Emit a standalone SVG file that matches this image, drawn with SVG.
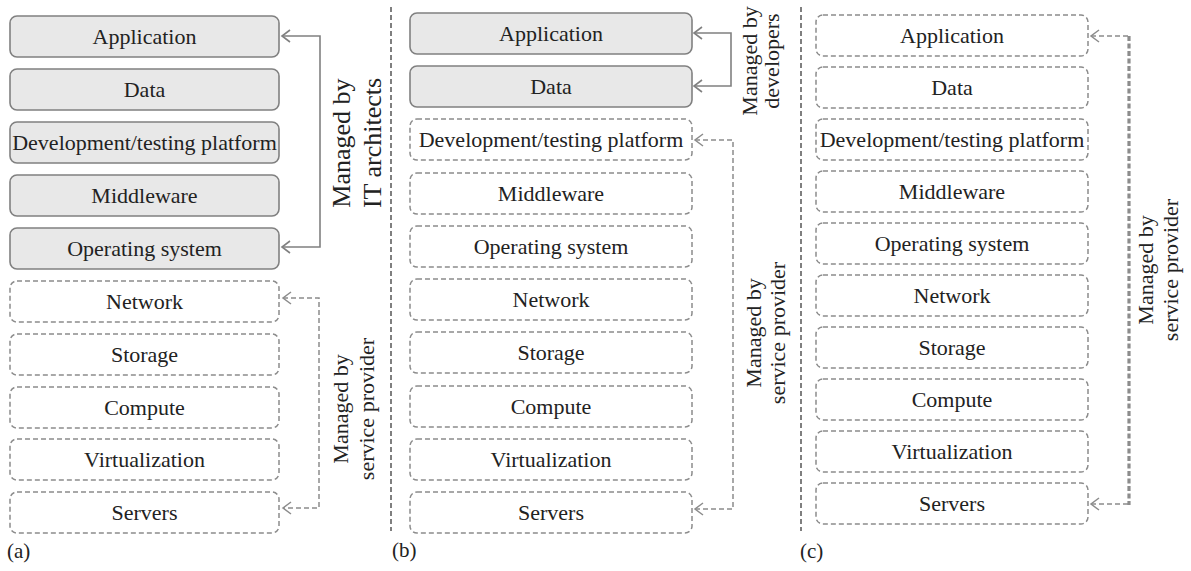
<svg xmlns="http://www.w3.org/2000/svg" width="1191" height="571" viewBox="0 0 1191 571">
<style>
text{font-family:"Liberation Serif","Times New Roman",serif;fill:#222;}
.t{font-size:22px;text-anchor:middle;}
.lab{font-size:22px;text-anchor:middle;}
.big{font-size:26px;text-anchor:middle;}
.pl{font-size:21px;}
.s{fill:#e8e8e8;stroke:#808080;stroke-width:1.6;}
.d{fill:#fff;stroke:#8c8c8c;stroke-width:1.5;stroke-dasharray:5 3;}
.c{fill:none;stroke:#808080;stroke-width:1.6;}
.cd{fill:none;stroke:#8c8c8c;stroke-width:1.5;stroke-dasharray:5 3;}
.ct{fill:none;stroke:#8c8c8c;stroke-width:3.2;stroke-dasharray:5 2.5;}
.div{fill:none;stroke:#555;stroke-width:1.5;stroke-dasharray:5 3;}
.ah{fill:none;stroke:#808080;stroke-width:1.6;}
.ahd{fill:none;stroke:#8c8c8c;stroke-width:1.5;}
</style>

<!-- Panel (a) -->
<g id="a-application"><rect class="s" x="10" y="16" width="269" height="41" rx="7"/><text class="t" x="144.5" y="44">Application</text></g>
<g id="a-data"><rect class="s" x="10" y="69" width="269" height="41" rx="7"/><text class="t" x="144.5" y="97">Data</text></g>
<g id="a-dev"><rect class="s" x="10" y="122" width="269" height="41" rx="7"/><text class="t" x="144.5" y="150">Development/testing platform</text></g>
<g id="a-middleware"><rect class="s" x="10" y="175" width="269" height="41" rx="7"/><text class="t" x="144.5" y="203">Middleware</text></g>
<g id="a-os"><rect class="s" x="10" y="228" width="269" height="41" rx="7"/><text class="t" x="144.5" y="256">Operating system</text></g>
<g id="a-network"><rect class="d" x="10" y="281" width="269" height="41" rx="7"/><text class="t" x="144.5" y="309">Network</text></g>
<g id="a-storage"><rect class="d" x="10" y="334" width="269" height="41" rx="7"/><text class="t" x="144.5" y="362">Storage</text></g>
<g id="a-compute"><rect class="d" x="10" y="387" width="269" height="41" rx="7"/><text class="t" x="144.5" y="415">Compute</text></g>
<g id="a-virtualization"><rect class="d" x="10" y="439" width="269" height="41" rx="7"/><text class="t" x="144.5" y="467">Virtualization</text></g>
<g id="a-servers"><rect class="d" x="10" y="492" width="269" height="41" rx="7"/><text class="t" x="144.5" y="520">Servers</text></g>

<!-- Panel (b) -->
<g id="b-application"><rect class="s" x="410" y="13" width="282" height="41" rx="7"/><text class="t" x="551" y="41">Application</text></g>
<g id="b-data"><rect class="s" x="410" y="66" width="282" height="41" rx="7"/><text class="t" x="551" y="94">Data</text></g>
<g id="b-dev"><rect class="d" x="410" y="119" width="282" height="41" rx="7"/><text class="t" x="551" y="147">Development/testing platform</text></g>
<g id="b-middleware"><rect class="d" x="410" y="173" width="282" height="41" rx="7"/><text class="t" x="551" y="201">Middleware</text></g>
<g id="b-os"><rect class="d" x="410" y="226" width="282" height="41" rx="7"/><text class="t" x="551" y="254">Operating system</text></g>
<g id="b-network"><rect class="d" x="410" y="279" width="282" height="41" rx="7"/><text class="t" x="551" y="307">Network</text></g>
<g id="b-storage"><rect class="d" x="410" y="332" width="282" height="41" rx="7"/><text class="t" x="551" y="360">Storage</text></g>
<g id="b-compute"><rect class="d" x="410" y="386" width="282" height="41" rx="7"/><text class="t" x="551" y="414">Compute</text></g>
<g id="b-virtualization"><rect class="d" x="410" y="439" width="282" height="41" rx="7"/><text class="t" x="551" y="467">Virtualization</text></g>
<g id="b-servers"><rect class="d" x="410" y="492" width="282" height="41" rx="7"/><text class="t" x="551" y="520">Servers</text></g>

<!-- Panel (c) -->
<g id="c-application"><rect class="d" x="816" y="15" width="272" height="41" rx="7"/><text class="t" x="952" y="43">Application</text></g>
<g id="c-data"><rect class="d" x="816" y="67" width="272" height="41" rx="7"/><text class="t" x="952" y="95">Data</text></g>
<g id="c-dev"><rect class="d" x="816" y="119" width="272" height="41" rx="7"/><text class="t" x="952" y="147">Development/testing platform</text></g>
<g id="c-middleware"><rect class="d" x="816" y="171" width="272" height="41" rx="7"/><text class="t" x="952" y="199">Middleware</text></g>
<g id="c-os"><rect class="d" x="816" y="223" width="272" height="41" rx="7"/><text class="t" x="952" y="251">Operating system</text></g>
<g id="c-network"><rect class="d" x="816" y="275" width="272" height="41" rx="7"/><text class="t" x="952" y="303">Network</text></g>
<g id="c-storage"><rect class="d" x="816" y="327" width="272" height="41" rx="7"/><text class="t" x="952" y="355">Storage</text></g>
<g id="c-compute"><rect class="d" x="816" y="379" width="272" height="41" rx="7"/><text class="t" x="952" y="407">Compute</text></g>
<g id="c-virtualization"><rect class="d" x="816" y="431" width="272" height="41" rx="7"/><text class="t" x="952" y="459">Virtualization</text></g>
<g id="c-servers"><rect class="d" x="816" y="483" width="272" height="41" rx="7"/><text class="t" x="952" y="511">Servers</text></g>

<!-- Dividers -->
<g id="dividers">
<line class="div" x1="391" y1="7" x2="391" y2="531"/>
<line class="div" x1="801" y1="7" x2="801" y2="531"/>
</g>

<!-- Connectors -->
<g id="connectors">
<polyline class="c" points="282,36 320,36 320,247 282,247"/>
<polyline class="ah" points="290,30 282,36 290,42"/>
<polyline class="ah" points="290,241 282,247 290,253"/>

<polyline class="cd" points="283,298 319,298 319,508 283,508"/>
<polyline class="ahd" points="291,292 283,298 291,304"/>
<polyline class="ahd" points="291,502 283,508 291,514"/>

<polyline class="c" points="694,33 731,33 731,86 694,86"/>
<polyline class="ah" points="702,27 694,33 702,39"/>
<polyline class="ah" points="702,80 694,86 702,92"/>

<polyline class="cd" points="695,140 733,140 733,509 695,509"/>
<polyline class="ahd" points="703,134 695,140 703,146"/>
<polyline class="ahd" points="703,503 695,509 703,515"/>

<polyline class="cd" points="1091,36 1129,36"/>
<polyline class="cd" points="1091,504 1129,504"/>
<line class="ct" x1="1129" y1="36" x2="1129" y2="505"/>
<polyline class="ahd" points="1099,30 1091,36 1099,42"/>
<polyline class="ahd" points="1099,498 1091,504 1099,510"/>
</g>

<!-- Connector labels -->
<g id="labels">
<text class="big" transform="translate(350,143) rotate(-90)"><tspan x="0" y="0">Managed by</tspan><tspan x="0" y="31">IT architects</tspan></text>
<text class="lab" transform="translate(348,409) rotate(-90)"><tspan x="0" y="0">Managed by</tspan><tspan x="0" y="26">service provider</tspan></text>
<text class="lab" transform="translate(757,61) rotate(-90)"><tspan x="0" y="0">Managed by</tspan><tspan x="0" y="22">developers</tspan></text>
<text class="lab" transform="translate(761,333) rotate(-90)"><tspan x="0" y="0">Managed by</tspan><tspan x="0" y="24">service provider</tspan></text>
<text class="lab" transform="translate(1153,270) rotate(-90)"><tspan x="0" y="0">Managed by</tspan><tspan x="0" y="25">service provider</tspan></text>
</g>

<!-- Panel labels -->
<g id="panel-labels">
<text class="pl" x="7" y="558">(a)</text>
<text class="pl" x="392" y="557">(b)</text>
<text class="pl" x="800" y="558">(c)</text>
</g>
</svg>
